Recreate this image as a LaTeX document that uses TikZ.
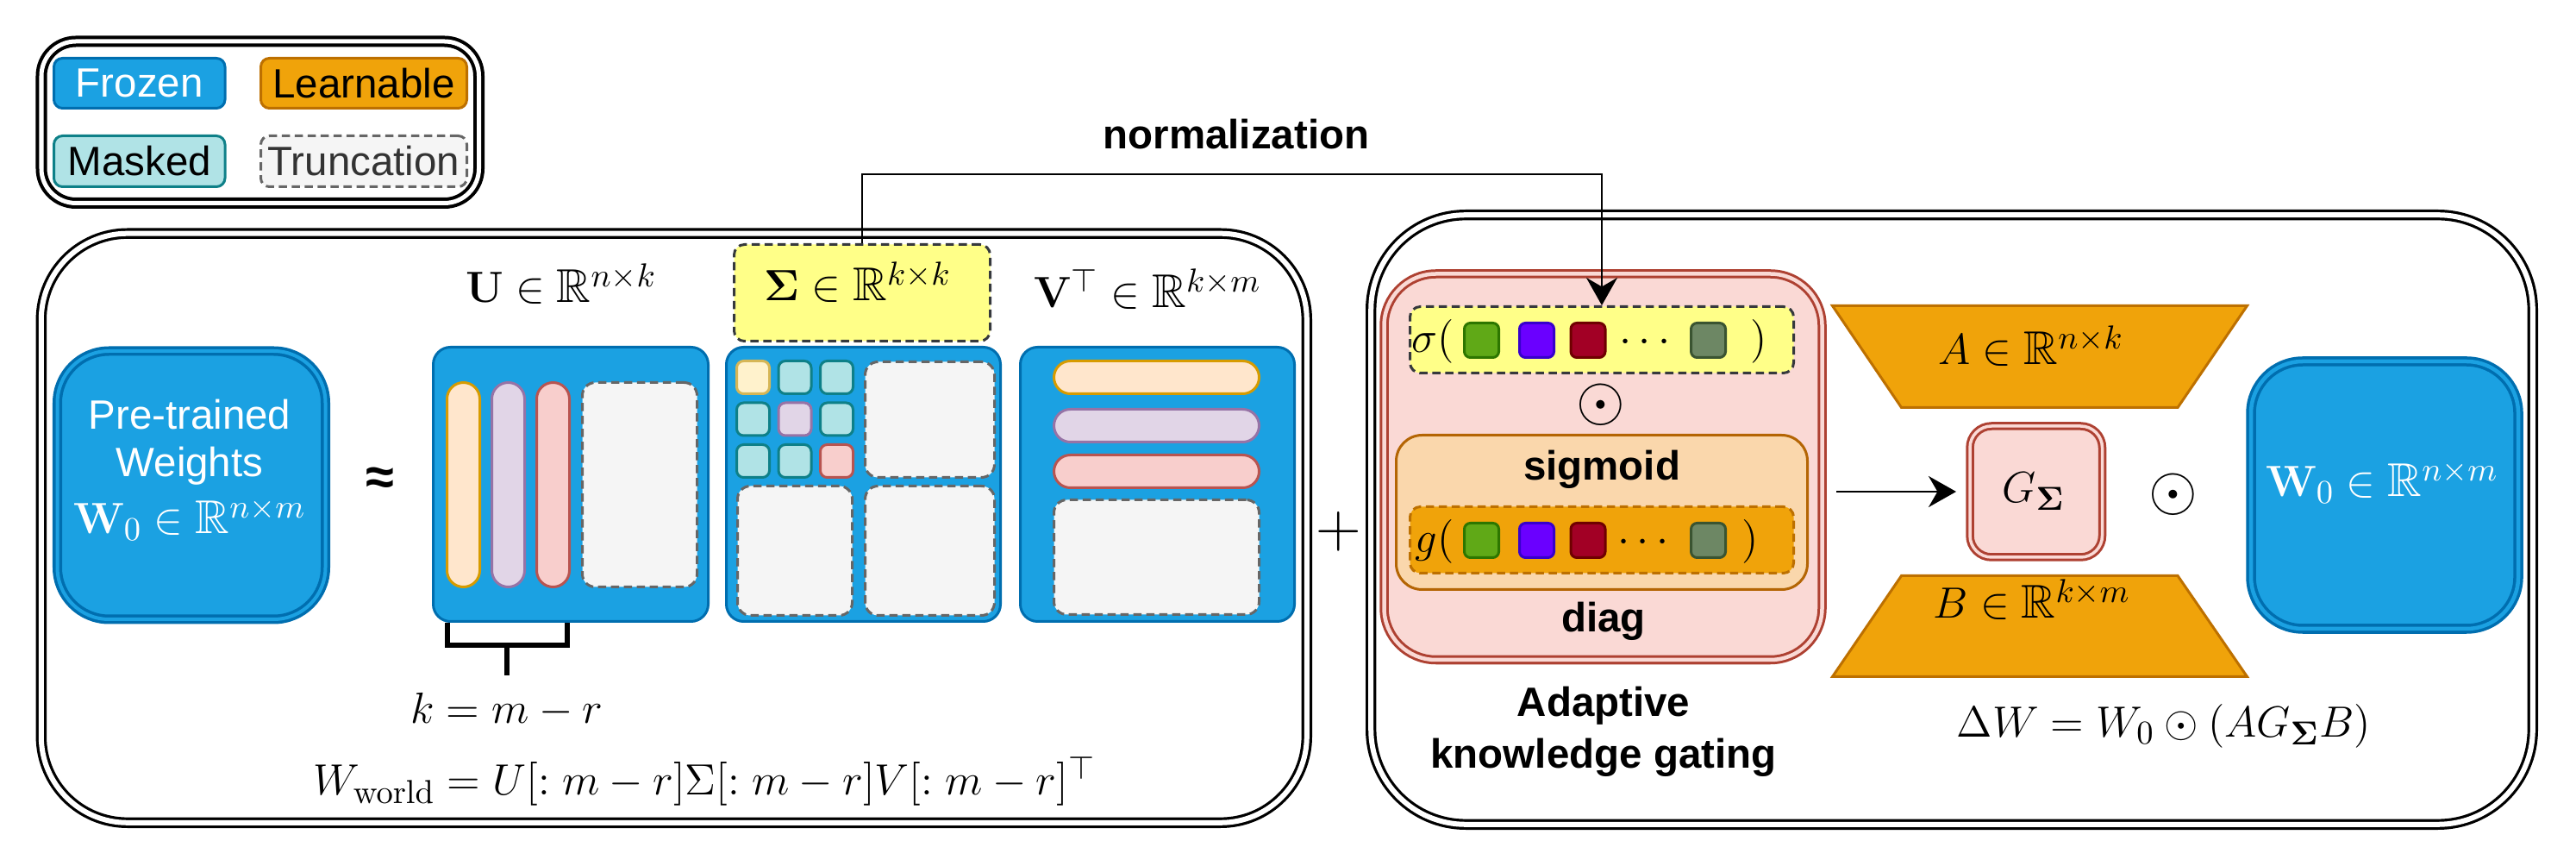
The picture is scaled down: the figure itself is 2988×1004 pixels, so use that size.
\documentclass[tikz,border=0pt]{standalone}
\usepackage[no-math]{fontspec}
\setmainfont{Liberation Sans}
\usepackage{amsmath,amssymb}
\usetikzlibrary{arrows.meta,fit}

\definecolor{frzfill}{HTML}{1BA1E2}
\definecolor{frzline}{HTML}{006EAF}
\definecolor{lrnfill}{HTML}{F0A30A}
\definecolor{lrnline}{HTML}{BD7000}
\definecolor{mskfill}{HTML}{B0E3E6}
\definecolor{mskline}{HTML}{0E8088}
\definecolor{trcfill}{HTML}{F5F5F5}
\definecolor{trcline}{HTML}{666666}
\definecolor{trctext}{HTML}{333333}
\definecolor{ylwfill}{HTML}{FFFF88}
\definecolor{ylwline}{HTML}{36393D}
\definecolor{gatefill}{HTML}{FAD9D5}
\definecolor{gateline}{HTML}{AE4132}
\definecolor{sigfill}{HTML}{FAD7AC}
\definecolor{sigline}{HTML}{B46504}
\definecolor{peachfill}{HTML}{FFE6CC}
\definecolor{peachline}{HTML}{D79B00}
\definecolor{lilacfill}{HTML}{E1D5E7}
\definecolor{lilacline}{HTML}{9673A6}
\definecolor{rosefill}{HTML}{F8CECC}
\definecolor{roseline}{HTML}{B85450}
\definecolor{creamfill}{HTML}{FFF2CC}
\definecolor{creamline}{HTML}{D6B656}
\definecolor{grnfill}{HTML}{60A917}
\definecolor{grnline}{HTML}{2D7600}
\definecolor{vltfill}{HTML}{6A00FF}
\definecolor{vltline}{HTML}{3700CC}
\definecolor{crmfill}{HTML}{A20025}
\definecolor{crmline}{HTML}{6F0000}
\definecolor{olvfill}{HTML}{6D8764}
\definecolor{olvline}{HTML}{3A5431}

\tikzset{
  box/.style={draw, line width=0.03cm, inner sep=0pt},
  dashpat/.style={dash pattern=on 0.095cm off 0.055cm},
  frozen/.style={box, draw=frzline, fill=frzfill, rounded corners=0.2cm},
  learnable/.style={box, draw=lrnline, fill=lrnfill, rounded corners=0.1cm},
  masked/.style={box, draw=mskline, fill=mskfill, rounded corners=0.08cm},
  truncated/.style={box, dashpat, draw=trcline, fill=trcfill, rounded corners=0.15cm},
  yellowbox/.style={box, dashpat, draw=ylwline, fill=ylwfill, rounded corners=0.12cm},
  pill/.style 2 args={box, draw=#1, fill=#2, rounded corners=0.19cm},
  cell/.style 2 args={box, draw=#1, fill=#2, rounded corners=0.08cm},
  token/.style 2 args={box, draw=#1, fill=#2, rounded corners=0.07cm},
  learnshape/.style={draw=lrnline, fill=lrnfill, line width=0.03cm, line join=miter},
  panel/.style={box, double=white, double distance=0.06cm, line width=0.032cm},
  flow/.style={line width=0.025cm, -{Stealth[length=0.32cm, width=0.36cm]}},
  bracket/.style={line width=0.06cm},
  lgdtext/.style={inner sep=0pt, font=\fontsize{13.5}{16}\selectfont},
  labeltext/.style={inner sep=0pt, font=\fontsize{13.5}{16.8}\selectfont\bfseries},
  mathtext/.style={inner sep=0pt, font=\fontsize{15.6}{18}\selectfont},
  bigop/.style={inner sep=0pt, font=\fontsize{20}{24}\selectfont}
}

\begin{document}
\begin{tikzpicture}[x=0.01cm, y=-0.01cm]
\useasboundingbox (0,0) rectangle (2988,1004);

% legend
\node[box, double=white, double distance=0.05cm, line width=0.04cm, rounded corners=0.4cm, fit={(48,48) (555.5,235.5)}] (legend) {};
\node[frozen, rounded corners=0.1cm, fit={(62.5,67.5) (261,125.5)}] (lgfrozen) {};
\node[learnable, fit={(302.5,67.5) (541.5,125.5)}] (lglearn) {};
\node[masked, rounded corners=0.1cm, fit={(62.5,157.5) (261,216.5)}] (lgmasked) {};
\node[truncated, rounded corners=0.1cm, fit={(302.5,157.5) (541.5,216.5)}] (lgtrunc) {};
\node[lgdtext, text=white] (lgfrozentxt) at (lgfrozen) {Frozen};
\node[lgdtext] (lglearntxt) at (lglearn) {Learnable};
\node[lgdtext] (lgmaskedtxt) at (lgmasked) {Masked};
\node[lgdtext, text=trctext] (lgtrunctxt) at (lgtrunc) {Truncation};

% SVD panel
\node[panel, rounded corners=1cm, fit={(47.8,270.7) (1515.8,953.8)}] (svdpanel) {};
\node[frozen, double=frzfill, double distance=0.04cm, line width=0.035cm, rounded corners=0.6cm, fit={(66.5,407) (377.5,718)}] (pretrained) {};
\node[lgdtext, text=white, anchor=base] (pretext1) at (220,498) {Pre-trained};
\node[lgdtext, text=white, anchor=base] (pretext2) at (220,553) {Weights};
\node[mathtext, text=white, anchor=base] (pretext3) at (220,619) {$\mathbf{W}_0\in\mathbb{R}^{n\times m}$};
\node[inner sep=0pt, font=\fontsize{17}{20}\selectfont\bfseries] (approx) at (441,558) {≈};

\node[frozen, fit={(502.5,402.5) (821.5,720.5)}] (ubox) {};
\node[pill={peachline}{peachfill}, fit={(518.5,443.5) (556.5,680.5)}] (ucol1) {};
\node[pill={lilacline}{lilacfill}, fit={(570.5,443.5) (608.5,680.5)}] (ucol2) {};
\node[pill={roseline}{rosefill}, fit={(622.5,443.5) (660.5,680.5)}] (ucol3) {};
\node[truncated, fit={(675.5,443.5) (808.5,680.5)}] (utrunc) {};
\node[mathtext, anchor=base] (ulabel) at (651,351) {$\mathbf{U}\in\mathbb{R}^{n\times k}$};

\node[frozen, fit={(842.5,402.5) (1160.5,720.5)}] (sbox) {};
\node[cell={creamline}{creamfill}, fit={(854.5,418.5) (892.5,456.5)}] (s11) {};
\node[cell={mskline}{mskfill}, fit={(903,418.5) (941,456.5)}] (s12) {};
\node[cell={mskline}{mskfill}, fit={(951.5,418.5) (989.5,456.5)}] (s13) {};
\node[cell={mskline}{mskfill}, fit={(854.5,467) (892.5,505)}] (s21) {};
\node[cell={lilacline}{lilacfill}, fit={(903,467) (941,505)}] (s22) {};
\node[cell={mskline}{mskfill}, fit={(951.5,467) (989.5,505)}] (s23) {};
\node[cell={mskline}{mskfill}, fit={(854.5,515.5) (892.5,553.5)}] (s31) {};
\node[cell={mskline}{mskfill}, fit={(903,515.5) (941,553.5)}] (s32) {};
\node[cell={roseline}{rosefill}, fit={(951.5,515.5) (989.5,553.5)}] (s33) {};
\node[truncated, fit={(1003.5,419.5) (1153.5,553.5)}] (strunca) {};
\node[truncated, fit={(855.5,563.5) (988.5,713.5)}] (struncb) {};
\node[truncated, fit={(1003.5,563.5) (1153.5,713.5)}] (strunc) {};
\node[yellowbox, fit={(851.5,283.5) (1148.5,395.5)}] (slabelbox) {};
\node[mathtext, anchor=base] (slabel) at (995,349) {$\boldsymbol{\Sigma}\in\mathbb{R}^{k\times k}$};

\node[frozen, fit={(1183.5,402.5) (1501.5,720.5)}] (vbox) {};
\node[pill={peachline}{peachfill}, fit={(1222.5,418.5) (1460.5,456.5)}] (vrow1) {};
\node[pill={lilacline}{lilacfill}, fit={(1222.5,474.5) (1460.5,512.5)}] (vrow2) {};
\node[pill={roseline}{rosefill}, fit={(1222.5,527.5) (1460.5,565.5)}] (vrow3) {};
\node[truncated, fit={(1222.5,579.5) (1460.5,712.5)}] (vtrunc) {};
\node[mathtext, anchor=base] (vlabel) at (1331,357) {$\mathbf{V}^{\top}\in\mathbb{R}^{k\times m}$};

\node[mathtext, anchor=base] (kexpr) at (588,839) {$k=m-r$};
\draw[bracket] (519,722) -- (519,748.5) -- (657.5,748.5) -- (657.5,722);
\draw[bracket, shorten >=0.2cm] (588,748.5) -- (kexpr.north);
\node[mathtext, anchor=base] (wworld) at (817,922) {$W_{\mathrm{world}}=U[:m-r]\Sigma[:m-r]V[:m-r]^{\top}$};

\node[bigop] (plus) at (1553,616) {$+$};

% gating panel
\node[panel, rounded corners=1.1cm, fit={(1590.2,249.2) (2937.8,955.8)}] (gatepanel) {};
\node[box, draw=gateline, fill=gatefill, double=gatefill, double distance=0.045cm, rounded corners=0.6cm, fit={(1605.5,317.5) (2113.5,765)}] (gate) {};
\node[yellowbox, fit={(1635.5,355.5) (2080.5,432.5)}] (sigbar) {};
\node[mathtext, anchor=base west] (sigopen) at (1637,409) {$\sigma($};
\node[token={grnline}{grnfill}, fit={(1698.5,374.5) (1738.5,414.5)}] (sig1) {};
\node[token={vltline}{vltfill}, fit={(1762.5,374.5) (1802.5,414.5)}] (sig2) {};
\node[token={crmline}{crmfill}, fit={(1822,374.5) (1862,414.5)}] (sig3) {};
\node[mathtext, anchor=base] (sigdots) at (1912,409) {$\cdots$};
\node[token={olvline}{olvfill}, fit={(1961.5,374.5) (2001.5,414.5)}] (sign) {};
\node[mathtext, anchor=base west] (sigclose) at (2030,409) {$)$};
\node[bigop] (gateodot) at (1857,469) {$\odot$};

\node[box, draw=sigline, fill=sigfill, rounded corners=0.3cm, fit={(1619.5,504.5) (2096.5,683.5)}] (sigmoid) {};
\node[labeltext, anchor=base] (sigmoidlabel) at (1858,557) {sigmoid};
\node[box, dashpat, draw=lrnline, fill=lrnfill, rounded corners=0.12cm, fit={(1635.5,587.5) (2080.5,664.5)}] (gbar) {};
\node[mathtext, anchor=base west] (gopen) at (1641,641) {$g($};
\node[token={grnline}{grnfill}, fit={(1698.5,606.5) (1738.5,646.5)}] (g1) {};
\node[token={vltline}{vltfill}, fit={(1762.5,606.5) (1802.5,646.5)}] (g2) {};
\node[token={crmline}{crmfill}, fit={(1822,606.5) (1862,646.5)}] (g3) {};
\node[mathtext, anchor=base] (gdots) at (1910,641) {$\cdots$};
\node[token={olvline}{olvfill}, fit={(1961.5,606.5) (2001.5,646.5)}] (gn) {};
\node[mathtext, anchor=base west] (gclose) at (2020,641) {$)$};
\node[labeltext, anchor=base] (diaglabel) at (1860,733) {diag};
\node[labeltext, anchor=base] (gatelabel1) at (1860,831) {Adaptive};
\node[labeltext, anchor=base] (gatelabel2) at (1860,890) {knowledge gating};

\draw[learnshape] (2125.5,354.5) -- (2606.5,354.5) -- (2526,472.5) -- (2205.5,472.5) -- cycle;
\node[mathtext, anchor=base] (alabel) at (2356,423) {$A\in\mathbb{R}^{n\times k}$};
\draw[learnshape] (2205.5,667.5) -- (2526,667.5) -- (2606.5,784.5) -- (2125.5,784.5) -- cycle;
\node[mathtext, anchor=base] (blabel) at (2357,717) {$B\in\mathbb{R}^{k\times m}$};

\node[box, draw=gateline, fill=gatefill, double=gatefill, double distance=0.035cm, rounded corners=0.25cm, fit={(2285,494) (2438.5,646)}] (gsig) {};
\node[mathtext] (gsiglabel) at (2359,570) {$G_{\boldsymbol{\Sigma}}$};
\node[bigop] (outodot) at (2521,573) {$\odot$};
\node[frozen, double=frzfill, double distance=0.045cm, line width=0.035cm, rounded corners=0.6cm, fit={(2611,419) (2921,729)}] (w0box) {};
\node[mathtext, text=white, anchor=base] (w0label) at (2763,576) {$\mathbf{W}_0\in\mathbb{R}^{n\times m}$};
\node[mathtext, anchor=base] (dwexpr) at (2510,855) {$\Delta W=W_0\odot(AG_{\boldsymbol{\Sigma}}B)$};

% connectors
\node[labeltext, anchor=base] (normlabel) at (1434,173) {normalization};
\draw[flow] (slabelbox.north) -- ++(0,-80) -| (sigbar.north);
\draw[flow, shorten <=0.15cm, shorten >=0.145cm] (gsig.west -| gate.east) -- (gsig.west);
\end{tikzpicture}
\end{document}
